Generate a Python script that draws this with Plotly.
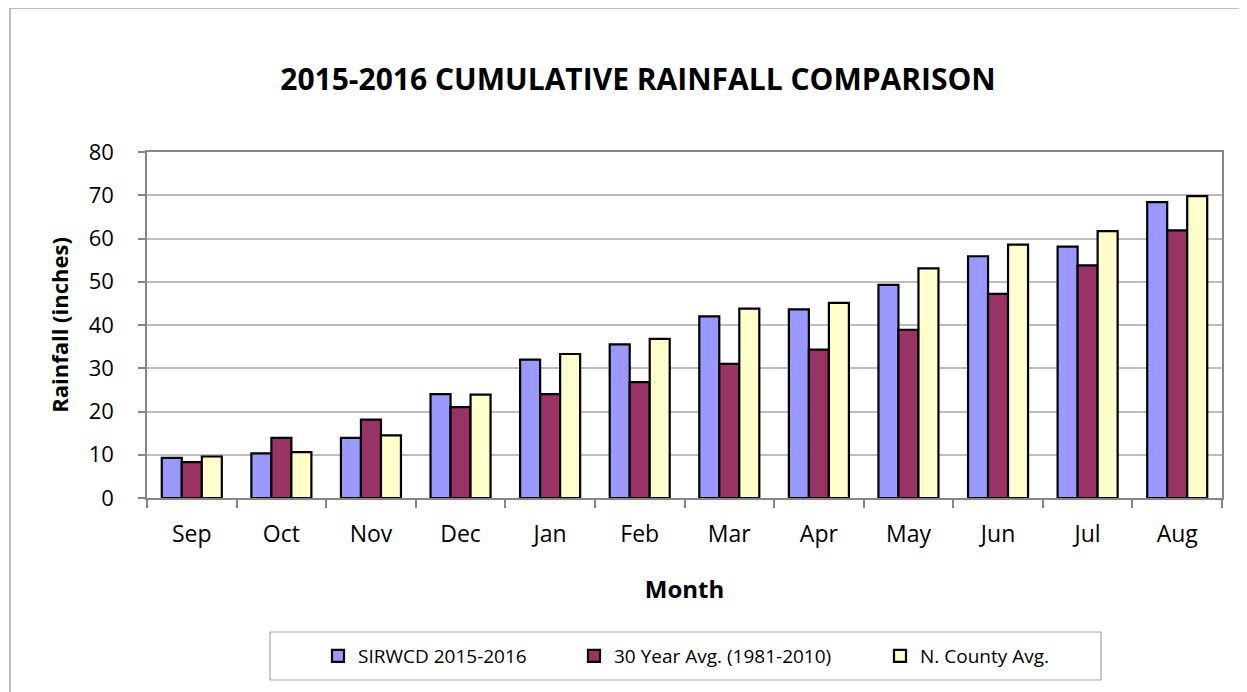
import plotly.graph_objects as go

months = ["Sep", "Oct", "Nov", "Dec", "Jan", "Feb", "Mar", "Apr", "May", "Jun", "Jul", "Aug"]
sirwcd = [9.3, 10.3, 13.9, 24.0, 32.0, 35.5, 42.0, 43.6, 49.3, 55.9, 58.1, 68.4]
avg30 = [8.3, 13.9, 18.1, 21.0, 24.0, 26.8, 31.0, 34.3, 38.9, 47.2, 53.8, 61.9]
ncounty = [9.6, 10.6, 14.5, 23.9, 33.3, 36.8, 43.8, 45.1, 53.1, 58.6, 61.7, 69.8]

series_names = ["SIRWCD 2015-2016", "30 Year Avg. (1981-2010)", "N. County Avg."]
colors = ["#9999FF", "#993366", "#FFFFCC"]
values = [sirwcd, avg30, ncounty]
legend_ids = ["legend", "legend2", "legend3"]

FONT = "Open Sans"
OFF = 8  # page body margin
W, H = 1247 - OFF, 692 - OFF
L, R, T, B = 147 - OFF, 25, 152 - OFF, 194


def cx(p):
    return (p - OFF) / W


def cy(p):
    return 1 - (p - OFF) / H


pw = W - L - R
ph = H - T - B


def px_x(p):
    return (p - OFF - L) / pw


def px_y(p):
    return (H - B - (p - OFF)) / ph


fig = go.Figure()
for name, col, vals, lg in zip(series_names, colors, values, legend_ids):
    fig.add_trace(go.Bar(
        x=months, y=vals, name=name, legend=lg, showlegend=True,
        marker=dict(color=col, line=dict(color="#000000", width=2.2)),
    ))

legend_x = [318, 574, 880]
legend_common = dict(orientation="h", xref="container", yref="container",
                     yanchor="middle", y=cy(656), xanchor="left",
                     font=dict(family=FONT, size=19, color="#000000"),
                     bgcolor="rgba(0,0,0,0)", borderwidth=0, visible=True)

fig.update_layout(
    width=W, height=H,
    margin=dict(l=L, r=R, t=T, b=B),
    paper_bgcolor="white", plot_bgcolor="white",
    showlegend=True,
    barmode="group", bargap=0.33, bargroupgap=0,
    title=dict(text="<b>2015-2016 CUMULATIVE RAINFALL COMPARISON</b>",
               x=cx(638), xanchor="center", xref="container",
               y=cy(79), yanchor="middle", yref="container",
               font=dict(family=FONT, size=30, color="#000000")),
    font=dict(family=FONT, color="#000000"),
    legend=dict(x=cx(legend_x[0]), **legend_common),
    legend2=dict(x=cx(legend_x[1]), **legend_common),
    legend3=dict(x=cx(legend_x[2]), **legend_common),
    xaxis=dict(
        title=dict(text="<b>Month</b>", font=dict(family=FONT, size=24), standoff=33),
        tickfont=dict(family=FONT, size=23),
        showline=True, linecolor="#868686", linewidth=1.5, mirror=True,
        ticks="outside", tickson="boundaries", ticklen=8, tickcolor="#868686", tickwidth=1.5,
        ticklabelstandoff=15,
    ),
    yaxis=dict(
        title=dict(text="<b>Rainfall (inches)</b>", font=dict(family=FONT, size=22), standoff=14),
        range=[0, 80], dtick=10, tickfont=dict(family=FONT, size=22),
        showline=True, linecolor="#868686", linewidth=1.5, mirror=True,
        showgrid=True, gridcolor="#BDBDBD", gridwidth=1.5,
        ticks="outside", ticklen=7, tickcolor="#868686", tickwidth=1.5,
        ticklabelstandoff=20, zeroline=False,
    ),
    shapes=[
        dict(type="rect", xref="paper", yref="paper",
             x0=px_x(10), x1=px_x(1245), y0=px_y(705), y1=px_y(8),
             line=dict(color="#A6A6A6", width=1.5), fillcolor="rgba(0,0,0,0)", layer="below"),
        dict(type="rect", xref="paper", yref="paper",
             x0=px_x(270), x1=px_x(1101), y0=px_y(680), y1=px_y(632),
             line=dict(color="#A6A6A6", width=1.2), fillcolor="rgba(0,0,0,0)"),
    ],
)

fig.write_html("out.html")
